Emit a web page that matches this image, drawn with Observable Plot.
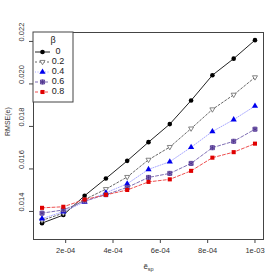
<!DOCTYPE html>
<html><head><meta charset="utf-8">
<script src="https://cdn.jsdelivr.net/npm/d3@7"></script>
<script src="https://cdn.jsdelivr.net/npm/@observablehq/plot@0.6"></script>
<style>body{margin:0;background:#fff} svg{font-family:"Liberation Sans",Arial,sans-serif}</style>
</head><body><div id="chart"></div>
<script>
const eValues = [1e-4, 1.9e-4, 2.8e-4, 3.7e-4, 4.6e-4, 5.5e-4, 6.4e-4, 7.3e-4, 8.2e-4, 9.1e-4, 1e-3];
const beta0  = [0.01345, 0.01383, 0.01474, 0.01555, 0.01638, 0.01726, 0.01811, 0.01922, 0.02041, 0.02119, 0.02206];
const beta02 = [0.01358, 0.01392, 0.01456, 0.01505, 0.01562, 0.01643, 0.01703, 0.01790, 0.01880, 0.01949, 0.02031];
const beta04 = [0.01366, 0.01399, 0.01445, 0.01488, 0.01530, 0.01598, 0.01634, 0.01702, 0.01776, 0.01832, 0.01896];
const beta06 = [0.01392, 0.01407, 0.01449, 0.01479, 0.01513, 0.01560, 0.01579, 0.01626, 0.01700, 0.01730, 0.01787];
const beta08 = [0.01417, 0.01422, 0.01456, 0.01478, 0.01501, 0.01539, 0.01551, 0.01591, 0.01653, 0.01679, 0.01719];
const betaLabels = ["0", "0.2", "0.4", "0.6", "0.8"];
const xTicks = [2e-4, 4e-4, 6e-4, 8e-4, 1e-3];
const xTickLabels = ["2e-04", "4e-04", "6e-04", "8e-04", "1e-03"];
const yTicks = [0.014, 0.016, 0.018, 0.020, 0.022];
const yTickLabels = ["0.014", "0.016", "0.018", "0.020", "0.022"];

const seriesValues = [beta0, beta02, beta04, beta06, beta08];
const rows = [];
seriesValues.forEach((vals, k) => vals.forEach((v, i) => rows.push({e: eValues[i], rmse: v, beta: betaLabels[k]})));
const yTickRows = yTicks.map((v, i) => ({v, label: yTickLabels[i]}));

const triDown = {draw(ctx, size) {
  const s = Math.sqrt(size) * 0.62;
  ctx.moveTo(-s, -s * 0.62); ctx.lineTo(s, -s * 0.62); ctx.lineTo(0, s * 1.1); ctx.closePath();
}};

const styles = {
  "0":   {line: "#222", dash: null, sym: [{symbol: "circle", fill: "#000", stroke: "none"}]},
  "0.2": {line: "#666", dash: "2,2", sym: [{symbol: triDown, fill: "#fff", stroke: "#666"}]},
  "0.4": {line: "#a8a8ff", dash: "1,1.5", sym: [{symbol: "triangle", fill: "#0000ee", stroke: "none"}]},
  "0.6": {line: "#7f6fb5", dash: "3,2", sym: [{symbol: "square", fill: "#9a88cc", stroke: "#5b3f98"}, {symbol: "asterisk", fill: "none", stroke: "#4a2f88"}]},
  "0.8": {line: "#ee5050", dash: "3,2", sym: [{symbol: "square", fill: "#e00000", stroke: "none"}]}
};

const marks = [];
for (const b of betaLabels) {
  const st = styles[b];
  const data = rows.filter(d => d.beta === b);
  marks.push(Plot.line(data, {x: "e", y: "rmse", stroke: st.line, strokeWidth: 1, strokeDasharray: st.dash}));
}
for (const b of betaLabels) {
  const st = styles[b];
  const data = rows.filter(d => d.beta === b);
  for (const s of st.sym) {
    marks.push(Plot.dot(data, {x: "e", y: "rmse", symbol: () => s.symbol, r: 2.3, fill: s.fill, stroke: s.stroke, strokeWidth: 0.8}));
  }
}

const chart = Plot.plot({
  width: 280, height: 280,
  marginLeft: 33, marginRight: 17, marginTop: 32, marginBottom: 41,
  style: {fontFamily: "Liberation Sans, Arial, sans-serif", background: "#fff"},
  symbol: {type: "identity"},
  x: {domain: [0.64e-4, 1.036e-3]},
  y: {domain: [0.01268, 0.02242]},
  marks: [
    Plot.axisX({ticks: xTicks, tickFormat: d => xTickLabels[xTicks.indexOf(d)], tickSize: 4, tickPadding: 4, fontSize: 7.5, label: null, stroke: "#444", fill: "#333"}),
    Plot.axisY({ticks: yTicks, tickFormat: () => "", tickSize: 4, label: null, stroke: "#444"}),
    Plot.text(yTickRows, {y: "v", text: "label", frameAnchor: "left", dx: -12, rotate: -90, fontSize: 7.5, fill: "#333"}),
    ...marks,
    Plot.frame({stroke: "#444"}),
    Plot.text(["RMSE(e)"], {frameAnchor: "left", dx: -26, rotate: -90, fontSize: 7, fill: "#333", text: d => d}),
    Plot.text(["xlab"], {frameAnchor: "bottom", dy: 29, fontSize: 8, fill: "#333", text: d => d, className: "xlab"})
  ]
});

document.getElementById("chart").appendChild(chart);
const svg = d3.select(chart);

// x label with tilde and subscript
const xl = svg.select(".xlab text");
xl.text(null);
xl.append("tspan").text("ẽ");
xl.append("tspan").attr("dy", 2.5).attr("font-size", 5.5).text("sp");

// legend
const lg = svg.append("g");
lg.append("rect").attr("x", 33).attr("y", 32).attr("width", 40).attr("height", 70).attr("fill", "#fff").attr("stroke", "#444");
lg.append("text").attr("x", 53).attr("y", 41).attr("text-anchor", "middle").attr("dominant-baseline", "middle").attr("font-size", 9).attr("fill", "#222").text("β");
betaLabels.forEach((b, i) => {
  const st = styles[b];
  const y = 52 + 10 * i;
  lg.append("line").attr("x1", 35).attr("x2", 50).attr("y1", y).attr("y2", y).attr("stroke", st.line).attr("stroke-dasharray", st.dash);
  for (const s of st.sym) {
    const type = typeof s.symbol === "string" ? ({circle: d3.symbolCircle, triangle: d3.symbolTriangle, square: d3.symbolSquare, asterisk: d3.symbolAsterisk})[s.symbol] : s.symbol;
    lg.append("path").attr("d", d3.symbol(type, Math.PI * 2.3 * 2.3)()).attr("transform", `translate(42.5,${y})`)
      .attr("fill", s.fill).attr("stroke", s.stroke).attr("stroke-width", 0.8);
  }
  lg.append("text").attr("x", 58).attr("y", y).attr("dominant-baseline", "middle").attr("font-size", 9).attr("fill", "#222").text(b);
});
</script></body></html>
